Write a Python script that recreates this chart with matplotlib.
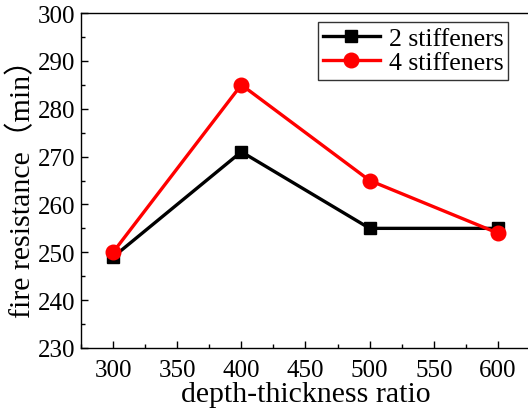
import matplotlib
matplotlib.use("Agg")
import matplotlib.pyplot as plt
from matplotlib.ticker import MultipleLocator

x = [300, 400, 500, 600]
s2 = [249, 271, 255, 255]
s4 = [250, 285, 265, 254]
labels = ["2 stiffeners", "4 stiffeners"]

plt.rcParams['font.family'] = ['Liberation Serif', 'Noto Sans CJK SC', 'DejaVu Sans']

fig = plt.figure(figsize=(5.28, 4.10), dpi=100)
ax = fig.add_axes([81/528, 61/410, 449/528, 335/410])

ax.plot(x, s2, color='black', lw=2.4, marker='s', ms=9, label=labels[0])
ax.plot(x, s4, color='red', lw=2.4, marker='o', ms=10.5, label=labels[1])

ax.set_xlim(275, 625)
ax.set_ylim(230, 300)
ax.xaxis.set_major_locator(MultipleLocator(50))
ax.xaxis.set_minor_locator(MultipleLocator(25))
ax.yaxis.set_major_locator(MultipleLocator(10))
ax.yaxis.set_minor_locator(MultipleLocator(5))
ax.tick_params(which='both', direction='in', labelsize=18, width=1)
ax.tick_params(which='major', length=5)
ax.tick_params(which='minor', length=3)
ax.tick_params(axis='x', pad=8)
ax.tick_params(axis='y', pad=4)
for sp in ax.spines.values():
    sp.set_linewidth(1)

ax.set_xlabel("depth-thickness ratio", fontsize=21.5, labelpad=0)
ax.set_ylabel("fire resistance（min）", fontsize=21.5, labelpad=1)

leg = ax.legend(loc='upper left', bbox_to_anchor=(237/449, 1 - 9/335), fontsize=18.5,
                frameon=True, fancybox=False, edgecolor='black', handlelength=2.2,
                borderpad=0.2, labelspacing=0.05, handletextpad=0.35, borderaxespad=0)
leg.get_frame().set_linewidth(1)

fig.savefig("out.png", dpi=100)
